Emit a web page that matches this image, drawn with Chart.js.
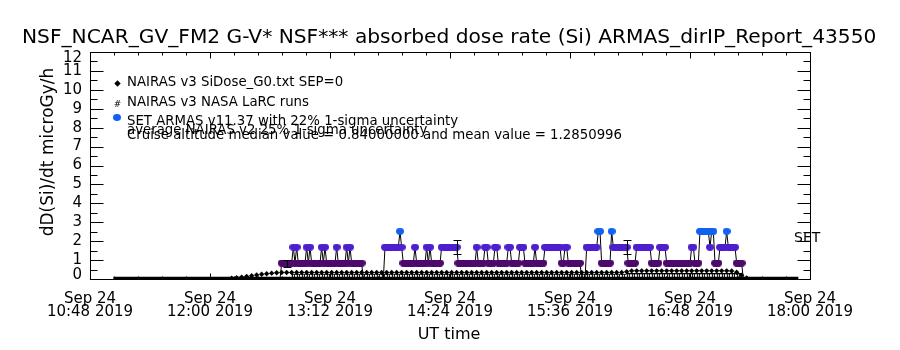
<!DOCTYPE html>
<html>
<head>
<meta charset="utf-8">
<script src="https://cdn.jsdelivr.net/npm/chart.js@4.4.1/dist/chart.umd.min.js"></script>
<style>
  html, body { margin: 0; padding: 0; background: #fff; }
  canvas { display: block; }
</style>
</head>
<body>
<canvas id="chart" width="900" height="350"></canvas>
<script>
// text
const titleText = 'NSF_NCAR_GV_FM2 G-V* NSF*** absorbed dose rate (Si) ARMAS_dirIP_Report_43550';
const yTitle = 'dD(Si)/dt microGy/h';
const xTitle = 'UT time';
const legendLines = [
    'NAIRAS v3 SiDose_G0.txt SEP=0',
    'NAIRAS v3 NASA LaRC runs',
    'SET ARMAS v11.37 with 22% 1-sigma uncertainty',
    'average NAIRAS v2 25% 1-sigma uncertainty',
    'Cruise altitude median value = 0.84000000 and mean value = 1.2850996'
];
const sideLabel = 'SET';

// axes (x in minutes of the day, UT)
const xTickMinutes = [648, 720, 792, 864, 936, 1008, 1080];
const xTickTimes = ['10:48', '12:00', '13:12', '14:24', '15:36', '16:48', '18:00'];
const xTickDay = 'Sep 24';
const xTickYear = '2019';
const yTicks = [0, 1, 2, 3, 4, 5, 6, 7, 8, 9, 10, 11, 12];

// SET ARMAS measured dose rate, one sample a minute
const armasTimes = [
    762, 763, 764, 765, 766, 767, 768, 769, 770, 771, 772, 773, 774, 775, 776, 777, 778, 779, 780, 781,
    782, 783, 784, 785, 786, 787, 788, 789, 790, 791, 792, 793, 794, 795, 796, 797, 798, 799, 800, 801,
    802, 803, 804, 805, 806, 807, 808, 809, 810, 811, 812, 813, 814, 815, 816, 817, 818, 819, 820, 821,
    822, 823, 824, 825, 826, 827, 828, 829, 830, 831, 832, 833, 834, 835, 836, 837, 838, 839, 840, 841,
    842, 843, 844, 845, 846, 847, 848, 849, 850, 851, 852, 853, 854, 855, 856, 857, 858, 859, 860, 861,
    862, 863, 864, 865, 866, 867, 868, 869, 870, 871, 872, 873, 874, 875, 876, 877, 878, 879, 880, 881,
    882, 883, 884, 885, 886, 887, 888, 889, 890, 891, 892, 893, 894, 895, 896, 897, 898, 899, 900, 901,
    902, 903, 904, 905, 906, 907, 908, 909, 910, 911, 912, 913, 914, 915, 916, 917, 918, 919, 920, 921,
    922, 923, 924, 925, 926, 927, 928, 929, 930, 931, 932, 933, 934, 935, 936, 937, 938, 939, 940, 941,
    942, 943, 944, 945, 946, 947, 948, 949, 950, 951, 952, 953, 954, 955, 956, 957, 958, 959, 960, 961,
    962, 963, 964, 965, 966, 967, 968, 969, 970, 971, 972, 973, 974, 975, 976, 977, 978, 979, 980, 981,
    982, 983, 984, 985, 986, 987, 988, 989, 990, 991, 992, 993, 994, 995, 996, 997, 998, 999, 1000, 1001,
    1002, 1003, 1004, 1005, 1006, 1007, 1008, 1009, 1010, 1011, 1012, 1013, 1014, 1015, 1016, 1017, 1018, 1019, 1020, 1021,
    1022, 1023, 1024, 1025, 1026, 1027, 1028, 1029, 1030, 1031, 1032, 1033, 1034, 1035, 1036, 1037, 1038, 1039, 1040
];
const armasDose = [
    0, 0.84, 0.84, 0.84, 0.84, 0.84, 0.84, 0.84, 1.68, 0.84, 1.68, 0.84, 0.84, 0.84, 0.84, 0.84, 1.68, 0.84, 1.68, 0.84,
    0.84, 0.84, 0.84, 0.84, 0.84, 1.68, 0.84, 1.68, 0.84, 0.84, 0.84, 0.84, 0.84, 0.84, 1.68, 0.84, 0.84, 0.84, 0.84, 0.84,
    1.68, 0.84, 1.68, 0.84, 0.84, 0.84, 0.84, 0.84, 0.84, 0.84, 0, 0, 0, 0, 0, 0, 0, 0, 0, 0,
    0, 0, 0, 1.68, 1.68, 1.68, 1.68, 1.68, 1.68, 1.68, 1.68, 1.68, 2.52, 1.68, 0.84, 0.84, 0.84, 0.84, 0.84, 0.84,
    0.84, 1.68, 0.84, 0.84, 0.84, 0.84, 0.84, 0.84, 1.68, 0.84, 1.68, 0.84, 0.84, 0.84, 0.84, 0.84, 0.84, 1.68, 1.68, 1.68,
    1.68, 1.68, 1.68, 1.68, 1.68, 1.68, 1.68, 0.84, 0.84, 0.84, 0.84, 0.84, 0.84, 0.84, 0.84, 0.84, 0.84, 0.84, 1.68, 0.84,
    0.84, 0.84, 0.84, 1.68, 1.68, 0.84, 0.84, 0.84, 0.84, 1.68, 1.68, 0.84, 0.84, 0.84, 0.84, 0.84, 0.84, 1.68, 1.68, 0.84,
    0.84, 0.84, 0.84, 0.84, 1.68, 1.68, 1.68, 0.84, 0.84, 0.84, 0.84, 0.84, 0.84, 1.68, 0.84, 0.84, 0.84, 0.84, 0.84, 1.68,
    1.68, 1.68, 1.68, 1.68, 1.68, 1.68, 1.68, 1.68, 1.68, 0.84, 0.84, 1.68, 1.68, 0.84, 0.84, 0.84, 0.84, 0.84, 0.84, 0.84,
    0.84, 0, 0, 0, 1.68, 1.68, 1.68, 1.68, 1.68, 1.68, 1.68, 2.52, 2.52, 0.84, 0.84, 0.84, 0.84, 0.84, 0.84, 2.52,
    1.68, 1.68, 1.68, 1.68, 1.68, 1.68, 1.68, 1.68, 1.68, 0.84, 0.84, 0.84, 0.84, 0.84, 1.68, 1.68, 1.68, 1.68, 1.68, 1.68,
    1.68, 1.68, 1.68, 0.84, 0.84, 0.84, 0.84, 0.84, 1.68, 1.68, 1.68, 1.68, 0.84, 0.84, 0.84, 0.84, 0.84, 0.84, 0.84, 0.84,
    0.84, 0.84, 0.84, 0.84, 0.84, 0.84, 0.84, 1.68, 1.68, 0.84, 0.84, 0.84, 2.52, 2.52, 2.52, 2.52, 2.52, 2.52, 1.68, 2.52,
    2.52, 0.84, 0.84, 0.84, 1.68, 1.68, 1.68, 1.68, 2.52, 1.68, 1.68, 1.68, 1.68, 1.68, 0.84, 0.84, 0.84, 0.84, 0
];

// ARMAS points that carry a 22% error bar
const errTimes = [766, 868, 970];
const errDose = [0.84, 1.68, 1.68];
const errFraction = 0.22;

// NAIRAS v3 SiDose_G0
const g0Times = [
    733, 736, 739, 742, 745, 748, 751, 754, 757, 760, 763, 766, 769, 772, 775, 778,
    781, 784, 787, 790, 793, 796, 799, 802, 805, 808, 811, 814, 817, 820, 823, 826,
    829, 832, 835, 838, 841, 844, 847, 850, 853, 856, 859, 862, 865, 868, 871, 874,
    877, 880, 883, 886, 889, 892, 895, 898, 901, 904, 907, 910, 913, 916, 919, 922,
    925, 928, 931, 934, 937, 940, 943, 946, 949, 952, 955, 958, 961, 964, 967, 970,
    973, 976, 979, 982, 985, 988, 991, 994, 997, 1000, 1003, 1006, 1009, 1012, 1015, 1018,
    1021, 1024, 1027, 1030, 1033, 1036, 1039, 1042
];
const g0Dose = [
    0.04, 0.07, 0.10, 0.13, 0.17, 0.21, 0.25, 0.28, 0.31, 0.33, 0.34, 0.34, 0.34, 0.34, 0.34, 0.34,
    0.34, 0.34, 0.34, 0.34, 0.34, 0.34, 0.34, 0.34, 0.34, 0.34, 0.34, 0.34, 0.34, 0.34, 0.34, 0.34,
    0.34, 0.34, 0.34, 0.34, 0.34, 0.34, 0.34, 0.34, 0.34, 0.34, 0.34, 0.34, 0.34, 0.34, 0.34, 0.34,
    0.34, 0.34, 0.34, 0.34, 0.34, 0.34, 0.34, 0.34, 0.34, 0.34, 0.34, 0.34, 0.34, 0.34, 0.34, 0.34,
    0.34, 0.34, 0.34, 0.34, 0.34, 0.34, 0.34, 0.34, 0.34, 0.34, 0.34, 0.34, 0.34, 0.34, 0.35, 0.38,
    0.43, 0.43, 0.43, 0.43, 0.43, 0.43, 0.43, 0.43, 0.43, 0.43, 0.43, 0.43, 0.43, 0.43, 0.43, 0.43,
    0.43, 0.43, 0.43, 0.43, 0.42, 0.36, 0.20, 0.05
];

// NAIRAS v3 NASA LaRC runs
const larcTimes = [
    770, 773, 776, 779, 782, 785, 788, 791, 794, 797, 800, 803, 806, 809, 812, 815,
    818, 821, 824, 827, 830, 833, 836, 839, 842, 845, 848, 851, 854, 857, 860, 863,
    866, 869, 872, 875, 878, 881, 884, 887, 890, 893, 896, 899, 902, 905, 908, 911,
    914, 917, 920, 923, 926, 929, 932, 935, 938, 941, 944, 947, 950, 953, 956, 959,
    962, 965, 968, 971, 974, 977, 980, 983, 986, 989, 992, 995, 998, 1001, 1004, 1007,
    1010, 1013, 1016, 1019, 1022, 1025, 1028, 1031, 1034, 1037
];
const larcDose = [
    0.15, 0.15, 0.15, 0.15, 0.15, 0.15, 0.15, 0.15, 0.15, 0.15, 0.15, 0.15, 0.15, 0.15, 0.15, 0.15,
    0.15, 0.15, 0.15, 0.15, 0.15, 0.15, 0.15, 0.15, 0.15, 0.15, 0.15, 0.15, 0.15, 0.15, 0.15, 0.15,
    0.15, 0.15, 0.15, 0.15, 0.15, 0.15, 0.15, 0.15, 0.15, 0.15, 0.15, 0.15, 0.15, 0.15, 0.15, 0.15,
    0.15, 0.15, 0.15, 0.15, 0.15, 0.15, 0.15, 0.15, 0.15, 0.15, 0.15, 0.15, 0.15, 0.15, 0.15, 0.15,
    0.15, 0.15, 0.15, 0.17, 0.17, 0.17, 0.17, 0.17, 0.17, 0.17, 0.17, 0.17, 0.17, 0.17, 0.17, 0.17,
    0.17, 0.17, 0.17, 0.17, 0.17, 0.17, 0.17, 0.17, 0.17, 0.17
];

// NAIRAS v2 average baseline
const baseTimes = [662, 1073];
const baseDose = [0.045, 0.045];

const FONT = '"DejaVu Sans", sans-serif';

function doseColor(v) {
    if (v >= 2.4) return '#0f62f2';
    if (v >= 1.5) return '#4e1fcf';
    return '#4d0a6c';
}

// small bitmap markers in the style of the original plot symbols
function hashMarker() {
    const c = document.createElement('canvas');
    c.width = 5; c.height = 5;
    const g = c.getContext('2d');
    g.fillStyle = '#fff';
    g.fillRect(0, 0, 5, 5);
    g.fillStyle = '#000';
    g.fillRect(0, 0, 5, 1);
    g.fillRect(1, 0, 1, 5);
    g.fillRect(3, 0, 1, 5);
    g.fillRect(0, 4, 5, 1);
    return c;
}

function blob(color) {
    const c = document.createElement('canvas');
    c.width = 8; c.height = 7;
    const g = c.getContext('2d');
    g.fillStyle = color;
    g.beginPath();
    g.ellipse(4, 3.5, 4, 3.4, 0, 0, Math.PI * 2);
    g.fill();
    return c;
}

const hashImg = hashMarker();
const blobImgs = {};
['#0f62f2', '#4e1fcf', '#4d0a6c'].forEach(c => { blobImgs[c] = blob(c); });

function pts(xs, ys) {
    return xs.map((x, i) => ({ x, y: ys[i] }));
}

function seg(ctx, x1, y1, x2, y2) {
    ctx.beginPath();
    ctx.moveTo(x1, y1);
    ctx.lineTo(x2, y2);
    ctx.stroke();
}

const idlFrame = {
    id: 'idlFrame',
    afterDatasetsDraw(chart) {
        const { ctx, scales: { x, y } } = chart;
        ctx.save();
        ctx.strokeStyle = '#000';
        ctx.lineWidth = 1;
        errTimes.forEach((t, i) => {
            const px = Math.round(x.getPixelForValue(t)) + 0.5;
            const lo = Math.round(y.getPixelForValue(errDose[i] * (1 - errFraction))) + 0.5;
            const hi = Math.round(y.getPixelForValue(errDose[i] * (1 + errFraction))) + 0.5;
            seg(ctx, px, lo, px, hi);
            seg(ctx, px - 4, lo, px + 4, lo);
            seg(ctx, px - 4, hi, px + 4, hi);
        });
        ctx.restore();
    },
    afterDraw(chart) {
        const { ctx, chartArea: a, scales: { x, y } } = chart;
        const L = a.left + 0.5, R = a.right + 0.5, T = a.top + 0.5, B = a.bottom + 0.5;
        ctx.save();
        ctx.strokeStyle = '#000';
        ctx.fillStyle = '#000';
        ctx.lineWidth = 1;
        ctx.strokeRect(L, T, R - L, B - T);

        // y ticks, both sides, pointing in
        yTicks.forEach((v, i) => {
            const py = Math.round(y.getPixelForValue(v)) + 0.5;
            seg(ctx, L, py, L + 13, py);
            seg(ctx, R - 13, py, R, py);
            if (i < yTicks.length - 1) {
                const pm = Math.round(y.getPixelForValue(v + 0.5)) + 0.5;
                seg(ctx, L, pm, L + 7, pm);
                seg(ctx, R - 7, pm, R, pm);
            }
        });
        // x ticks, top and bottom
        xTickMinutes.forEach((m, i) => {
            const px = Math.round(x.getPixelForValue(m)) + 0.5;
            seg(ctx, px, B, px, B - 6);
            seg(ctx, px, T, px, T + 6);
            if (i < xTickMinutes.length - 1) {
                const step = (xTickMinutes[i + 1] - m) / 5;
                for (let k = 1; k < 5; k++) {
                    const pm = Math.round(x.getPixelForValue(m + k * step)) + 0.5;
                    seg(ctx, pm, B, pm, B - 3);
                    seg(ctx, pm, T, pm, T + 3);
                }
            }
        });

        // y tick labels
        ctx.font = '15px ' + FONT;
        ctx.textAlign = 'right';
        ctx.textBaseline = 'middle';
        yTicks.forEach(v => {
            let py = y.getPixelForValue(v);
            py = Math.min(Math.max(py, a.top + 6), a.bottom - 4);
            ctx.fillText(String(v), a.left - 8, py);
        });

        // x tick labels
        ctx.textAlign = 'center';
        ctx.textBaseline = 'alphabetic';
        xTickMinutes.forEach((m, i) => {
            const px = x.getPixelForValue(m);
            ctx.fillText(xTickDay, px, a.bottom + 24);
            ctx.fillText(xTickTimes[i] + ' ' + xTickYear, px, a.bottom + 37);
        });

        // titles
        ctx.font = '16px ' + FONT;
        ctx.fillText(xTitle, 449, 339);
        ctx.textAlign = 'left';
        ctx.font = '20.2px ' + FONT;
        ctx.fillText(titleText, 22, 43);

        ctx.save();
        ctx.translate(53, 152);
        ctx.rotate(-Math.PI / 2);
        ctx.textAlign = 'center';
        ctx.font = '17px ' + FONT;
        ctx.fillText(yTitle, 0, 0);
        ctx.restore();

        // legend block
        ctx.font = '13.3px ' + FONT;
        const baselines = [86, 106, 125, 134, 139];
        legendLines.forEach((t, i) => ctx.fillText(t, 127, baselines[i]));
        Chart.helpers.drawPoint(ctx, { pointStyle: 'rectRot', radius: 3.2, borderWidth: 0 }, 117.5, 83.5);
        ctx.font = '9px ' + FONT;
        ctx.textAlign = 'center';
        ctx.fillText('#', 117.5, 107);
        ctx.textAlign = 'left';
        ctx.drawImage(blobImgs[doseColor(2.52)], 113, 114);

        ctx.font = '14px ' + FONT;
        ctx.fillText(sideLabel, 794, 242);
        ctx.restore();
    }
};

new Chart(document.getElementById('chart'), {
    type: 'line',
    data: {
        datasets: [
            {
                label: 'SET ARMAS',
                data: pts(armasTimes, armasDose),
                borderColor: '#000',
                borderWidth: 1,
                pointStyle: c => blobImgs[doseColor(c.raw ? c.raw.y : 0)],
                pointRadius: c => (c.raw && c.raw.y > 0 ? 4 : 0),
                tension: 0
            },
            {
                label: 'NAIRAS v3 SiDose_G0',
                data: pts(g0Times, g0Dose),
                showLine: false,
                pointStyle: 'rectRot',
                pointRadius: 2.7,
                pointBackgroundColor: '#000',
                pointBorderWidth: 0
            },
            {
                label: 'NAIRAS v2 average',
                data: pts(baseTimes, baseDose),
                borderColor: '#000',
                borderWidth: 3,
                pointRadius: 0
            },
            {
                label: 'NAIRAS v3 NASA LaRC',
                data: pts(larcTimes, larcDose),
                showLine: false,
                pointStyle: hashImg,
                pointRadius: 3
            }
        ]
    },
    options: {
        responsive: false,
        animation: false,
        events: [],
        layout: { padding: { left: 90, right: 90, top: 52, bottom: 71 } },
        plugins: { legend: { display: false }, tooltip: { enabled: false } },
        scales: {
            x: { type: 'linear', min: 648, max: 1080, display: false },
            y: { type: 'linear', min: 0, max: 12, display: false }
        }
    },
    plugins: [idlFrame]
});
</script>
</body>
</html>
